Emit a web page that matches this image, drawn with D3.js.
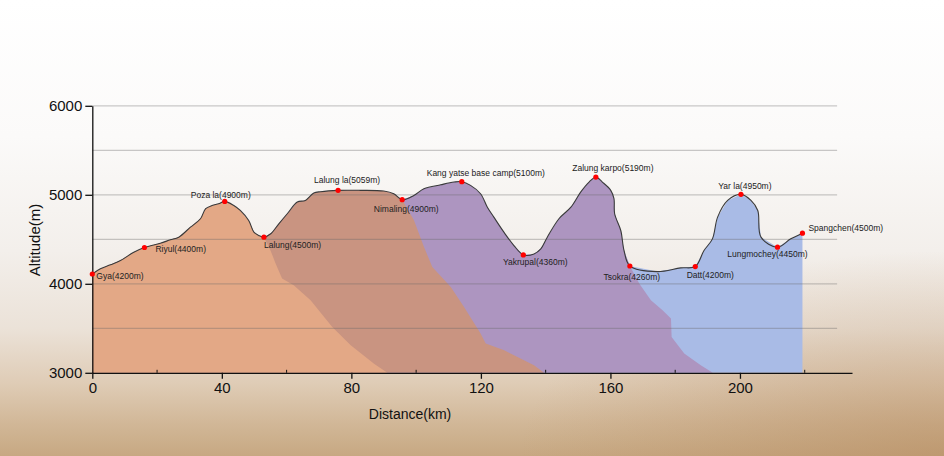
<!DOCTYPE html>
<html>
<head>
<meta charset="utf-8">
<script src="https://cdn.jsdelivr.net/npm/d3@7"></script>
<style>
  html, body { margin: 0; padding: 0; background: #fff; }
  svg { display: block; }
</style>
</head>
<body>
<div id="chart"></div>
<script>
// trek profile: distance (km) and altitude (m)
const profileKm = [0, 2.5, 5.6, 8.7, 12.8, 16.1, 21.0, 24.1, 26.7, 30.3, 33.4, 35.0, 37.0, 39.0, 40.9,
  43.7, 45.7, 48.3, 49.9, 51.4, 53.0, 55.1, 57.6, 60.2, 63.3, 65.8, 68.4, 70.5, 75.9, 82.8, 90.0, 93.1,
  95.7, 99.3, 102.4, 107.6, 111.7, 114.1, 116.8, 119.9, 122.0, 124.0, 127.1, 130.2, 133.1, 136.4, 138.5,
  140.5, 144.1, 147.8, 150.8, 153.4, 155.5, 157.5, 160.1, 161.1, 161.3, 163.2, 164.2, 166.0, 174.5, 181.7,
  186.2, 188.9, 191.5, 193.1, 196.2, 200.3, 203.4, 205.5, 206.5, 211.6, 215.7, 219.3]
const profileAlt = [4110, 4168, 4213, 4261, 4355, 4408, 4456, 4494, 4524, 4636, 4731, 4844, 4880, 4899, 4926,
  4880, 4824, 4712, 4580, 4543, 4524, 4562, 4674, 4787, 4918, 4937, 5020, 5035, 5050, 5050, 5042, 5012,
  4945, 4993, 5068, 5113, 5143, 5147, 5106, 5012, 4861, 4749, 4580, 4430, 4325, 4336, 4393,
  4524, 4731, 4861, 5030, 5143, 5199, 5143, 5050, 4956, 4787, 4599, 4374, 4200, 4137, 4179,
  4194, 4374, 4505, 4749, 4937, 5005, 4937, 4824, 4524, 4411, 4505, 4569]

// camps / passes
const campNames = ['Gya(4200m)', 'Riyul(4400m)', 'Poza la(4900m)', 'Lalung(4500m)', 'Lalung la(5059m)',
  'Nimaling(4900m)', 'Kang yatse base camp(5100m)', 'Yakrupal(4360m)', 'Zalung karpo(5190m)',
  'Tsokra(4260m)', 'Datt(4200m)', 'Yar la(4950m)', 'Lungmochey(4450m)', 'Spangchen(4500m)']
const campKm = [0, 16.1, 40.9, 53.0, 75.9, 95.7, 114.1, 133.1, 155.5, 166.0, 186.2, 200.3, 211.6, 219.3]
const campAlt = [4110, 4408, 4926, 4524, 5050, 4945, 5147, 4325, 5199, 4200, 4194, 5005, 4411, 4569]

// stage boundaries (km, altitude) going down from the camp to the base
const edge1Km = [53.0, 55.0, 56.6, 58.6, 62.2, 67.4, 74.1, 79.8, 87.0, 91.1]
const edge1Alt = [4524, 4378, 4228, 4060, 3984, 3816, 3515, 3309, 3103, 3000]
const edge2Km = [95.7, 99.3, 102.4, 105.0, 110.7, 114.8, 119.9, 121.5, 127.2, 136.4, 139.5]
const edge2Alt = [4945, 4716, 4415, 4190, 3965, 3740, 3441, 3328, 3253, 3084, 3000]
const edge3Km = [166.0, 168.9, 172.5, 176.1, 178.7, 178.9, 182.8, 187.9, 191.6]
const edge3Alt = [4200, 4003, 3816, 3703, 3610, 3403, 3216, 3084, 3000]

const xTicks = [0, 40, 80, 120, 160, 200]
const xMinorTicks = [20, 60, 100, 140, 180, 220]
const yTicks = [3000, 4000, 5000, 6000]
const yGrid = [3500, 4000, 4500, 5000, 5500, 6000]

const W = 944
const H = 456

const svg = d3.select('#chart').append('svg')
  .attr('width', W)
  .attr('height', H)
  .style('font-family', '"Liberation Sans", Arial, sans-serif')

// background wash
const defs = svg.append('defs')
const bg = defs.append('linearGradient')
  .attr('id', 'bg').attr('x1', 0).attr('y1', 0).attr('x2', 0).attr('y2', 1)
bg.selectAll('stop')
  .data([[0, '#ffffff'], [0.3, '#fbfaf9'], [0.55, '#f3efeb'], [0.72, '#ebe2d8'], [0.84, '#dfccb6'], [0.93, '#d1b797'], [1, '#c7a882']])
  .join('stop')
  .attr('offset', d => d[0])
  .attr('stop-color', d => d[1])
const corner = defs.append('radialGradient')
  .attr('id', 'corner').attr('cx', 1).attr('cy', 1).attr('r', 0.45)
corner.append('stop').attr('offset', 0).attr('stop-color', '#b58a5e').attr('stop-opacity', 0.5)
corner.append('stop').attr('offset', 1).attr('stop-color', '#b58a5e').attr('stop-opacity', 0)

svg.append('rect').attr('width', W).attr('height', H).attr('fill', 'url(#bg)')
svg.append('rect').attr('width', W).attr('height', H).attr('fill', 'url(#corner)')

const x = d3.scaleLinear().domain([0, 234.6]).range([92.3, 852])
const y = d3.scaleLinear().domain([3000, 6000]).range([372.8, 105.8])

const profile = profileKm.map((k, i) => ({ km: k, alt: profileAlt[i] }))
const toPts = (ks, as) => ks.map((k, i) => ({ km: k, alt: as[i] }))

const line = d3.line().x(d => x(d.km)).y(d => y(d.alt))

// each stage: profile from start up to the stage end, then down its edge, back along the base
function stagePath (endKm, edge) {
  const top = profile.filter(d => d.km <= endKm)
  const pts = top.concat(edge)
  pts.push({ km: 0, alt: 3000 })
  return line(pts) + 'Z'
}

const lastKm = profileKm[profileKm.length - 1]
const stages = [
  { end: lastKm, edge: [{ km: lastKm, alt: 3000 }], color: '#a9bbe6' },
  { end: edge3Km[0], edge: toPts(edge3Km, edge3Alt), color: '#ad95c0' },
  { end: edge2Km[0], edge: toPts(edge2Km, edge2Alt), color: '#c99481' },
  { end: edge1Km[0], edge: toPts(edge1Km, edge1Alt), color: '#e3a886' }
]

svg.append('g')
  .selectAll('path')
  .data(stages)
  .join('path')
  .attr('d', d => stagePath(d.end, d.edge))
  .attr('fill', d => d.color)

// horizontal guides
svg.append('g')
  .selectAll('line')
  .data(yGrid)
  .join('line')
  .attr('x1', x(0))
  .attr('x2', x(230))
  .attr('y1', d => y(d))
  .attr('y2', d => y(d))
  .attr('stroke', '#666')
  .attr('stroke-opacity', 0.35)
  .attr('stroke-width', 1.2)

// profile outline
svg.append('path')
  .datum(profile)
  .attr('d', d3.line().x(d => x(d.km)).y(d => y(d.alt)).curve(d3.curveCatmullRom))
  .attr('fill', 'none')
  .attr('stroke', '#3a3a3a')
  .attr('stroke-width', 1.1)

// axes
const xAxis = svg.append('g')
  .attr('transform', `translate(0,${y(3000)})`)
  .call(d3.axisBottom(x).tickValues(xTicks).tickFormat(d3.format('d')).tickSize(6).tickSizeOuter(0).tickPadding(4))
xAxis.select('.domain').attr('stroke', '#111').attr('stroke-width', 1.3)
xAxis.selectAll('.tick line').attr('stroke', '#111').attr('stroke-width', 1.3)
xAxis.selectAll('text').style('font-size', '15px').attr('fill', '#111')

svg.append('g')
  .attr('transform', `translate(0,${y(3000)})`)
  .selectAll('line')
  .data(xMinorTicks)
  .join('line')
  .attr('x1', d => x(d)).attr('x2', d => x(d))
  .attr('y1', 0).attr('y2', -3)
  .attr('stroke', '#111')

const yAxis = svg.append('g')
  .attr('transform', `translate(${x(0)},0)`)
  .call(d3.axisLeft(y).tickValues(yTicks).tickFormat(d3.format('d')).tickSize(7).tickSizeOuter(0).tickPadding(3))
yAxis.select('.domain').attr('stroke', '#111').attr('stroke-width', 1.3)
yAxis.selectAll('.tick line').attr('stroke', '#111').attr('stroke-width', 1.3)
yAxis.selectAll('text').style('font-size', '15px').attr('fill', '#111')

svg.append('text')
  .attr('x', 410)
  .attr('y', 419)
  .attr('text-anchor', 'middle')
  .style('font-size', '14px')
  .attr('fill', '#111')
  .text('Distance(km)')

svg.append('text')
  .attr('transform', 'translate(40,240) rotate(-90)')
  .attr('text-anchor', 'middle')
  .style('font-size', '15px')
  .attr('fill', '#111')
  .text('Altitude(m)')

// camp markers and labels
const labelPlace = [
  { dx: 4, dy: 5, a: 'start' }, { dx: 11, dy: 5, a: 'start' }, { dx: -4, dy: -3, a: 'middle' },
  { dx: 0, dy: 11, a: 'start' }, { dx: 9, dy: -7, a: 'middle' }, { dx: 4, dy: 12, a: 'middle' },
  { dx: 24, dy: -6, a: 'middle' }, { dx: 12, dy: 10, a: 'middle' }, { dx: 17, dy: -6, a: 'middle' },
  { dx: 2, dy: 14, a: 'middle' }, { dx: 15, dy: 11, a: 'middle' }, { dx: 4, dy: -5, a: 'middle' },
  { dx: -10, dy: 10, a: 'middle' }, { dx: 6, dy: -2, a: 'start' }
]

const camps = campNames.map((n, i) => ({ name: n, km: campKm[i], alt: campAlt[i], p: labelPlace[i] }))

svg.append('g')
  .selectAll('circle')
  .data(camps)
  .join('circle')
  .attr('cx', d => x(d.km))
  .attr('cy', d => y(d.alt))
  .attr('r', 2.6)
  .attr('fill', '#f00')

svg.append('g')
  .selectAll('text')
  .data(camps)
  .join('text')
  .attr('x', d => x(d.km) + d.p.dx)
  .attr('y', d => y(d.alt) + d.p.dy)
  .attr('text-anchor', d => d.p.a)
  .style('font-size', '8.5px')
  .attr('fill', '#222')
  .text(d => d.name)
</script>
</body>
</html>
